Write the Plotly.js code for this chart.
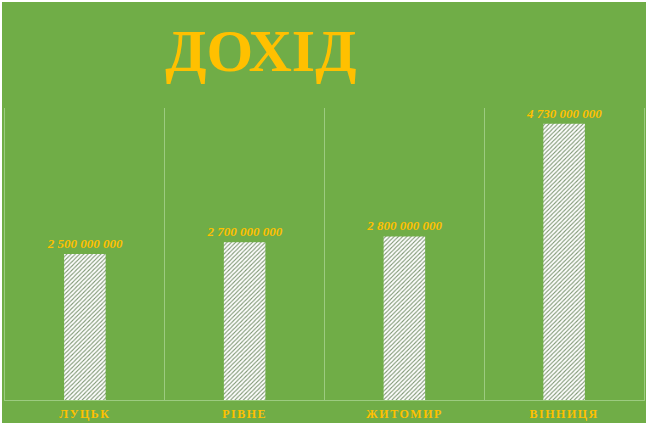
<!DOCTYPE html>
<html>
<head>
<meta charset="utf-8">
<script src="https://cdn.plot.ly/plotly-3.0.1.min.js"></script>
<style>
  body { margin: 0; background: #ffffff; }
  #income-chart { position: absolute; left: 2px; top: 2px; width: 644px; height: 421px; }
  #income-chart .xtick text { letter-spacing: 1.5px; }
</style>
</head>
<body>
<div id="income-chart"></div>
<script>
// Дані
const cities = ["ЛУЦЬК", "РІВНЕ", "ЖИТОМИР", "ВІННИЦЯ"];
const income = [2500000000, 2700000000, 2800000000, 4730000000];

const GOLD = "#FFC000";
const GREEN = "#70AD47";
const GRID = "#9CCB80";

// Підписи значень з пробілами між тисячами
function formatValue(v) {
  return String(v).replace(/\B(?=(\d{3})+(?!\d))/g, " ");
}

const trace = {
  type: "bar",
  x: cities,
  y: income,
  text: income.map(formatValue),
  textposition: "outside",
  constraintext: "none",
  cliponaxis: false,
  textfont: { family: "Liberation Serif", size: 13, color: GOLD, weight: "bold", style: "italic" },
  marker: {
    color: "#ffffff",
    line: { width: 0 },
    pattern: { shape: "/", size: 3, solidity: 0.35, fgcolor: "#7d9672", bgcolor: "#ffffff" },
  },
  hoverinfo: "skip",
};

const layout = {
  title: {
    text: "<b>ДОХІД</b>",
    font: { family: "Liberation Serif", size: 60, color: GOLD },
    x: 0.402,
    xanchor: "center",
    y: 0.885,
    yanchor: "middle",
  },
  paper_bgcolor: GREEN,
  plot_bgcolor: GREEN,
  margin: { l: 3, r: 2, t: 106, b: 23 },
  bargap: 0.74,
  showlegend: false,
  xaxis: {
    type: "category",
    tickson: "boundaries",
    showgrid: true,
    gridcolor: GRID,
    gridwidth: 1,
    showline: true,
    linecolor: GRID,
    ticks: "",
    ticklabelstandoff: 3,
    tickfont: { family: "Liberation Serif", size: 12, color: GOLD, weight: "bold" },
  },
  yaxis: {
    range: [0, 5000000000],
    showgrid: false,
    zeroline: false,
    showticklabels: false,
    showline: true,
    mirror: true,
    linecolor: GRID,
    linewidth: 1,
  },
};

const config = { staticPlot: true, responsive: false };

Plotly.newPlot("income-chart", [trace], layout, config);
</script>
</body>
</html>
